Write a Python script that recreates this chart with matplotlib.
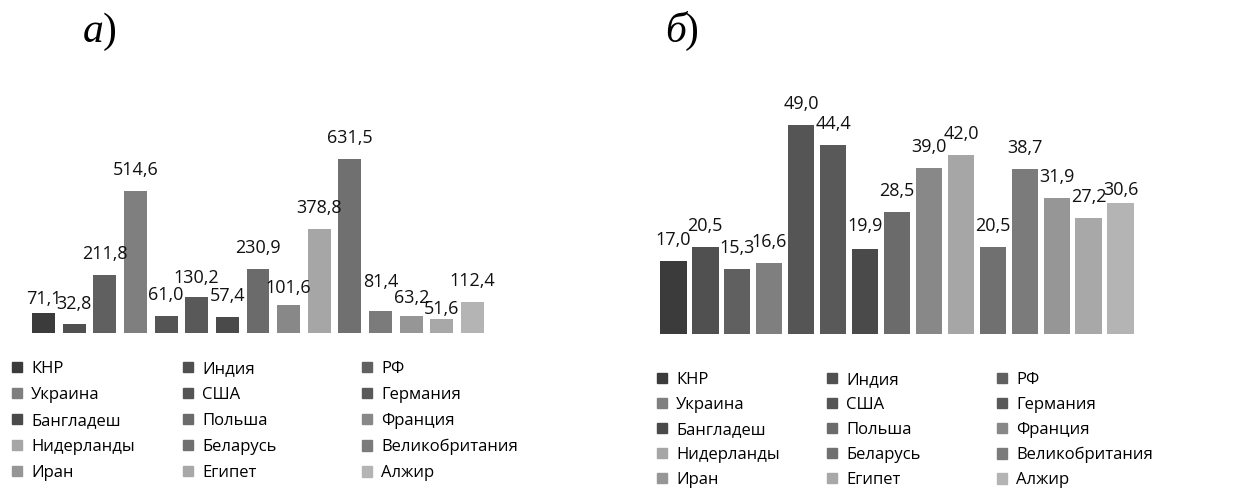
import matplotlib.pyplot as plt
from matplotlib.patches import Patch

plt.rcParams['font.family'] = ['Open Sans', 'DejaVu Sans']

countries = ['КНР', 'Индия', 'РФ', 'Украина', 'США', 'Германия', 'Бангладеш',
             'Польша', 'Франция', 'Нидерланды', 'Беларусь', 'Великобритания',
             'Иран', 'Египет', 'Алжир']
values_a = [71.1, 32.8, 211.8, 514.6, 61.0, 130.2, 57.4, 230.9, 101.6, 378.8,
            631.5, 81.4, 63.2, 51.6, 112.4]
values_b = [17.0, 20.5, 15.3, 16.6, 49.0, 44.4, 19.9, 28.5, 39.0, 42.0,
            20.5, 38.7, 31.9, 27.2, 30.6]
colors = ['#3b3b3b', '#505050', '#606060', '#7f7f7f', '#555555', '#595959',
          '#4a4a4a', '#6b6b6b', '#888888', '#a6a6a6', '#707070', '#7b7b7b',
          '#969696', '#a8a8a8', '#b4b4b4']

# подписи над столбцами: сдвиг в пикселях (как у Excel, где метки наезжают)
lift_a = {0: 9, 1: 15, 4: 16, 5: 14, 8: 12, 11: 24, 12: 13, 13: 5}
lift_b = {6: 18, 14: 8}

W, H = 1237, 488
fig = plt.figure(figsize=(W / 100, H / 100), dpi=100)


def px_axes(left, top, width, height):
    return fig.add_axes([left / W, 1 - (top + height) / H, width / W, height / H])


def fmt(v):
    return f'{v:.1f}'.replace('.', ',')


def draw(ax, vals, width, ymax, lift):
    x = range(len(vals))
    ax.bar(x, vals, width=width, color=colors)
    for xi, v in zip(x, vals):
        dy = lift.get(xi, 16) * 0.72
        ax.annotate(fmt(v), (xi, v), xytext=(0, dy), textcoords='offset points',
                    ha='center', va='baseline', fontsize=13, color='#111111')
    ax.set_xlim(-0.6, 14.6)
    ax.set_ylim(0, ymax)
    ax.axis('off')


def legend(ytop, ls, colx):
    for c, cx in enumerate(colx):
        idx = list(range(c, len(countries), 3))
        handles = [Patch(color=colors[i], label=countries[i]) for i in idx]
        fig.legend(handles=handles, loc='upper left',
                   bbox_to_anchor=(cx / W, 1 - ytop / H), frameon=False,
                   fontsize=12, borderpad=0, borderaxespad=0,
                   handlelength=0.6, handleheight=0.6, handletextpad=0.55,
                   labelspacing=ls)


# а)
ax1 = px_axes(25, 100, 466, 233)
draw(ax1, values_a, 0.75, 233 / 0.2755, lift_a)
# б)
ax2 = px_axes(654, 60, 486, 274)
draw(ax2, values_b, 0.835, 274 / 4.265, lift_b)

legend(361, 0.60, [12, 183, 362])
legend(372, 0.54, [657, 827, 997])

for x0, letter in [(83, 'а'), (665, 'б')]:
    fig.text(x0 / W, 1 - 42 / H, letter, fontsize=30, style='italic',
             family='Liberation Serif', va='baseline')
    fig.text((x0 + 20) / W, 1 - 42 / H, ')', fontsize=30,
             family='Liberation Serif', va='baseline')

fig.savefig('out.png', dpi=100)
